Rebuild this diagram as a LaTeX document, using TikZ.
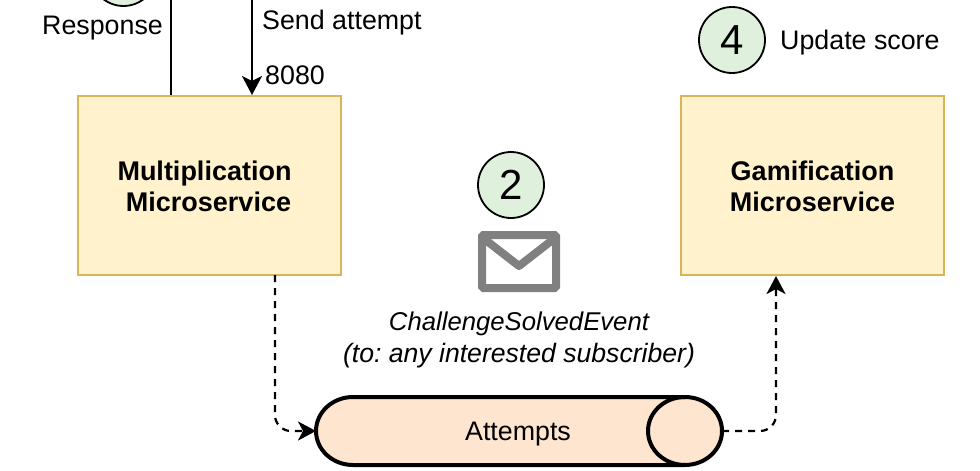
\documentclass[tikz,border=0pt]{standalone}
\usepackage{fontspec}
\setmainfont{Liberation Sans}
\usetikzlibrary{arrows.meta}
\definecolor{boxfill}{HTML}{FFF2CC}
\definecolor{boxline}{HTML}{D6B656}
\definecolor{stepfill}{HTML}{DFF1DD}
\definecolor{pipefill}{HTML}{FDE5CF}
\definecolor{mailgrey}{HTML}{808080}
\tikzset{
  x=1pt,y=-1pt,
  base/.style={font=\fontsize{26.8}{32}\selectfont,inner sep=0pt,text=black},
  service/.style={base,draw=boxline,fill=boxfill,line width=2pt,minimum width=263pt,minimum height=179pt,align=center,font=\fontsize{27}{31}\selectfont\bfseries},
  stepcircle/.style={base,draw=black,fill=stepfill,circle,line width=1.8pt,minimum size=66pt,font=\fontsize{42}{42}\selectfont},
  solidarrow/.style={line width=2pt,-{Stealth[length=19pt,width=20pt,inset=5pt]}},
  solidline/.style={line width=2pt},
  dashedarrow/.style={line width=2.2pt,dash pattern=on 7pt off 6pt,rounded corners=16pt,-{Stealth[length=18pt,width=19pt,inset=5pt]}},
}
\begin{document}
\begin{tikzpicture}
\useasboundingbox (0,0) rectangle (980,471);
\clip (0,0) rectangle (980,471);
\node[service] (mult) at (209.5,185.5) {\rule{0pt}{22pt}Multiplication\hspace*{10pt}\\Microservice\hspace*{2pt}};
\node[service] (gami) at (812.5,185.5) {\rule{0pt}{22pt}Gamification\\Microservice};
\node[stepcircle] (s1) at (123.5,-27) {};
\node[stepcircle] (s2) at (511,185) {2};
\node[stepcircle] (s4) at (732,40) {4};
\node[base] (resp) at (102.5,28) {Response};
\node[base,anchor=west] (send) at (262,23) {Send attempt};
\node[base,anchor=west] (port) at (265,75) {8080};
\node[base,anchor=west] (upd) at (780,43) {Update score};
\node[base,align=center,font=\fontsize{25.7}{32}\selectfont\itshape\frenchspacing] (evt) at (519,340) {ChallengeSolvedEvent\\{\fontsize{26.6}{32}\selectfont(to: any interested subscriber)}};
% envelope
\draw[mailgrey,fill=white,line width=8pt,rounded corners=1.5pt] (482,235) rectangle (556,288);
\draw[mailgrey,line width=8pt,line join=round] (483,238) -- (519,266) -- (555,238);
% topic
\draw[black,fill=pipefill,line width=4pt] (353,397) -- (685,397)
  .. controls (705.4,397) and (722,412.2) .. (722,431)
  .. controls (722,449.8) and (705.4,465) .. (685,465)
  -- (353,465)
  .. controls (332.6,465) and (316,449.8) .. (316,431)
  .. controls (316,412.2) and (332.6,397) .. (353,397) -- cycle;
\draw[black,line width=4pt] (685,397)
  .. controls (664.6,397) and (648,412.2) .. (648,431)
  .. controls (648,449.8) and (664.6,465) .. (685,465);
\node[base] (topic) at (518,434) {Attempts};
\coordinate (pipeW) at (316,431);
\coordinate (pipeE) at (722,431);
% connectors
\coordinate (t1) at (170.5,0);
\coordinate (t2) at (252,0);
\draw[solidline] (t1) -- (mult.north -| t1);
\draw[solidarrow] (t2) -- (mult.north -| t2);
\coordinate (m1) at (275,275);
\coordinate (g1) at (776,276);
\draw[dashedarrow] (m1) -- (275,431) -- (pipeW);
\draw[dashedarrow] (pipeE) -- (776,431) -- (g1);
\end{tikzpicture}
\end{document}
